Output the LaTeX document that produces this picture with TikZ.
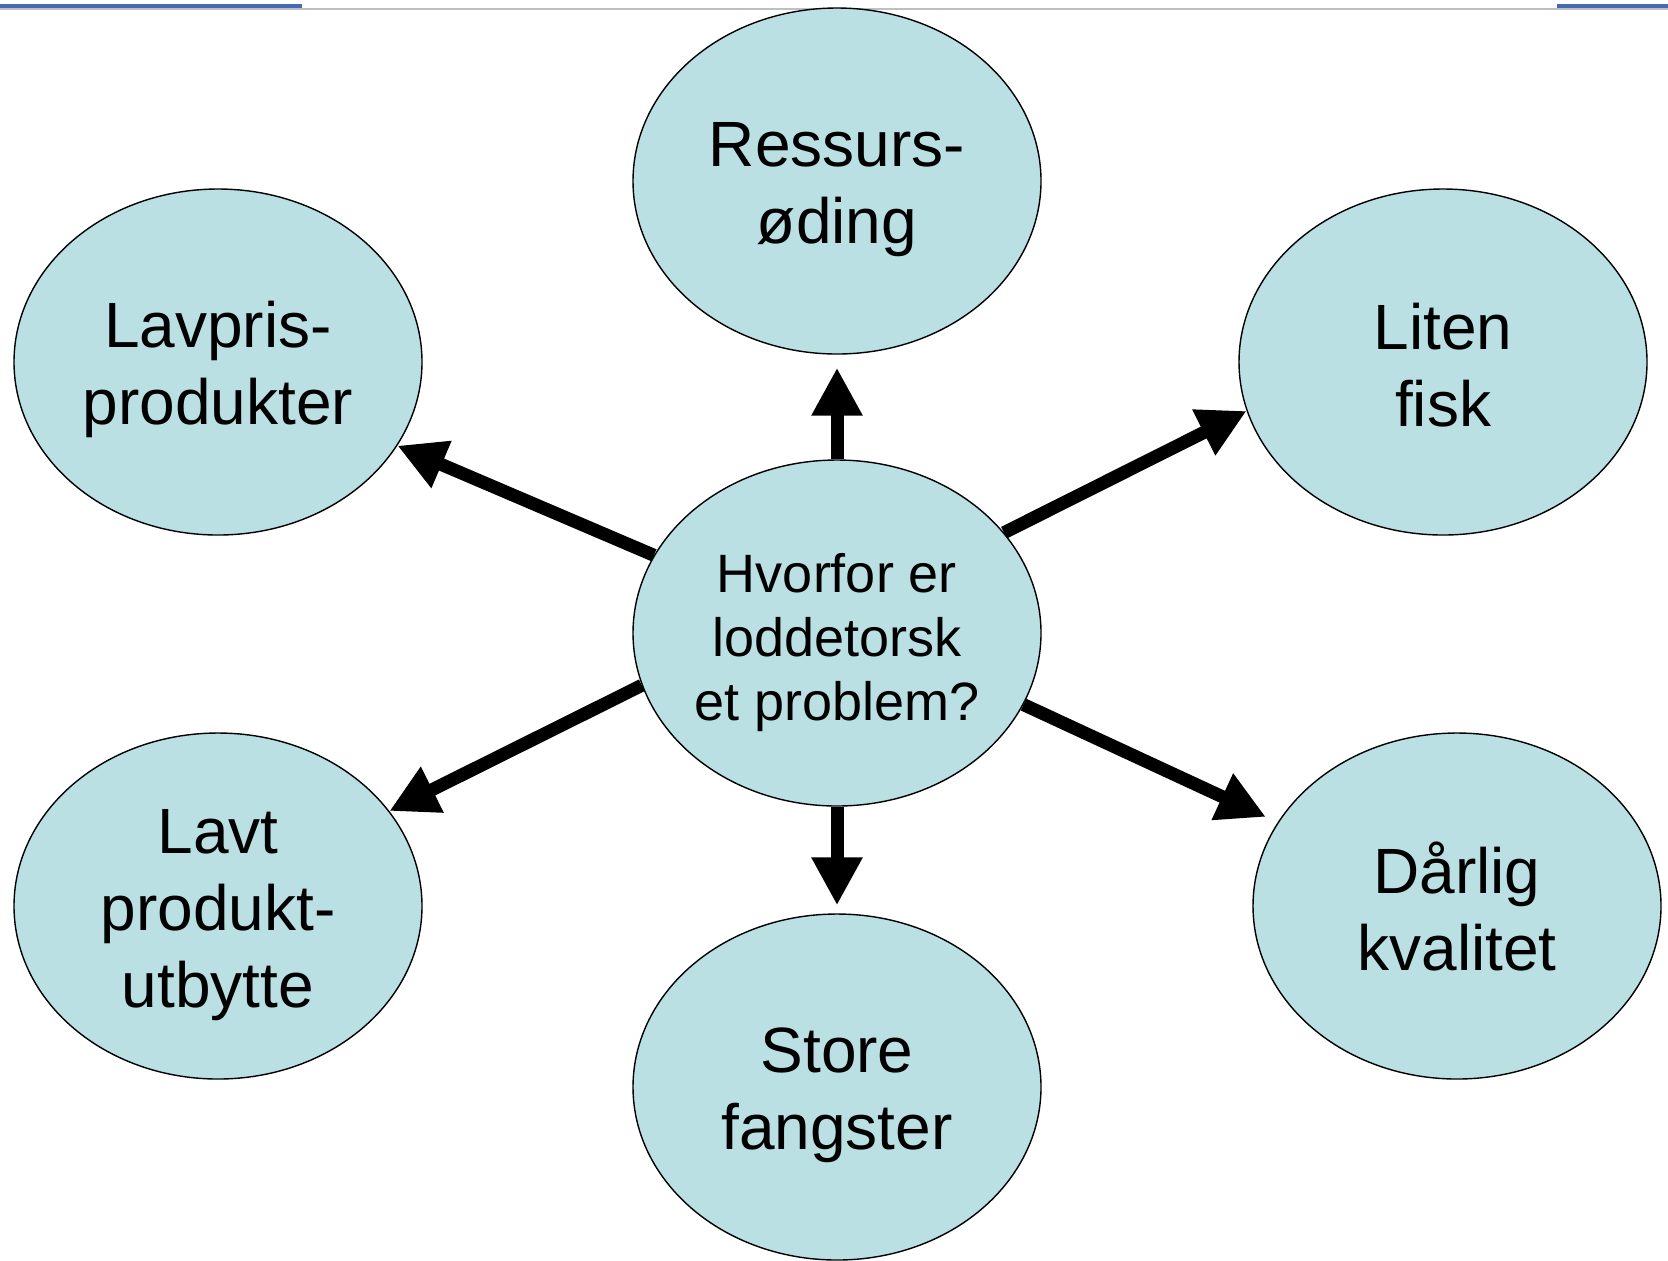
\documentclass[tikz,border=0pt]{standalone}
\usepackage{fontspec}
\setmainfont{Liberation Sans}
\usetikzlibrary{arrows.meta,shapes.geometric,backgrounds}
\definecolor{bubblefill}{RGB}{186,224,227}
\definecolor{headerblue}{RGB}{68,106,180}
% pushes the first line of a bubble down a little
\newcommand{\bubblestrut}[1]{\rule{0pt}{#1}}

\begin{document}
\begin{tikzpicture}[x=0.5pt,y=-0.5pt,
  bubble/.style={ellipse, draw=black, line width=0.7pt, fill=bubblefill,
    minimum width=204pt, minimum height=173pt, inner sep=0pt, align=center,
    font=\fontsize{32}{38.5}\selectfont},
  hubarrow/.style={-{Triangle[length=24pt,width=24pt]}, line width=6.5pt}]
  \useasboundingbox (0,0) rectangle (1668,1260);

  % Header line
  \draw[gray!50, line width=0.6pt] (0,9) -- (1668,9);
  \draw[headerblue, line width=1.6pt] (0,6) -- (302,6);
  \draw[headerblue, line width=1.6pt] (1557,6) -- (1668,6);

  % Bubbles
  \node[bubble, font=\fontsize{27}{32}\selectfont] (hub) at (837,633)
    {\bubblestrut{29pt}Hvorfor er\\loddetorsk\\et problem?};
  \node[bubble] (ressurs) at (837,181) {\bubblestrut{31pt}Ressurs-\\øding};
  \node[bubble] (lavpris) at (218,362) {\bubblestrut{31pt}Lavpris-\\produkter};
  \node[bubble] (liten) at (1443,362) {\bubblestrut{26pt}Liten\\fisk};
  \node[bubble] (lavt) at (218,906) {\bubblestrut{31pt}Lavt\\produkt-\\utbytte};
  \node[bubble] (store) at (837,1087) {\bubblestrut{31pt}Store\\fangster};
  \node[bubble] (daarlig) at (1457,906) {Dårlig\\kvalitet};

  % Arrows
  \begin{scope}[on background layer]
    \draw[hubarrow, shorten >=6.5pt] (hub.north) -- (ressurs.south);
    \draw[hubarrow] (hub.157) -- (lavpris.-25);
    \draw[hubarrow] (hub.31) -- (liten.194);
    \draw[hubarrow] (hub.195) -- (lavt.29);
    \draw[hubarrow, shorten >=4pt] (hub.south) -- (store.north);
    \draw[hubarrow, shorten >=6.5pt] (hub.-21) -- (daarlig.155);
  \end{scope}
\end{tikzpicture}
\end{document}
